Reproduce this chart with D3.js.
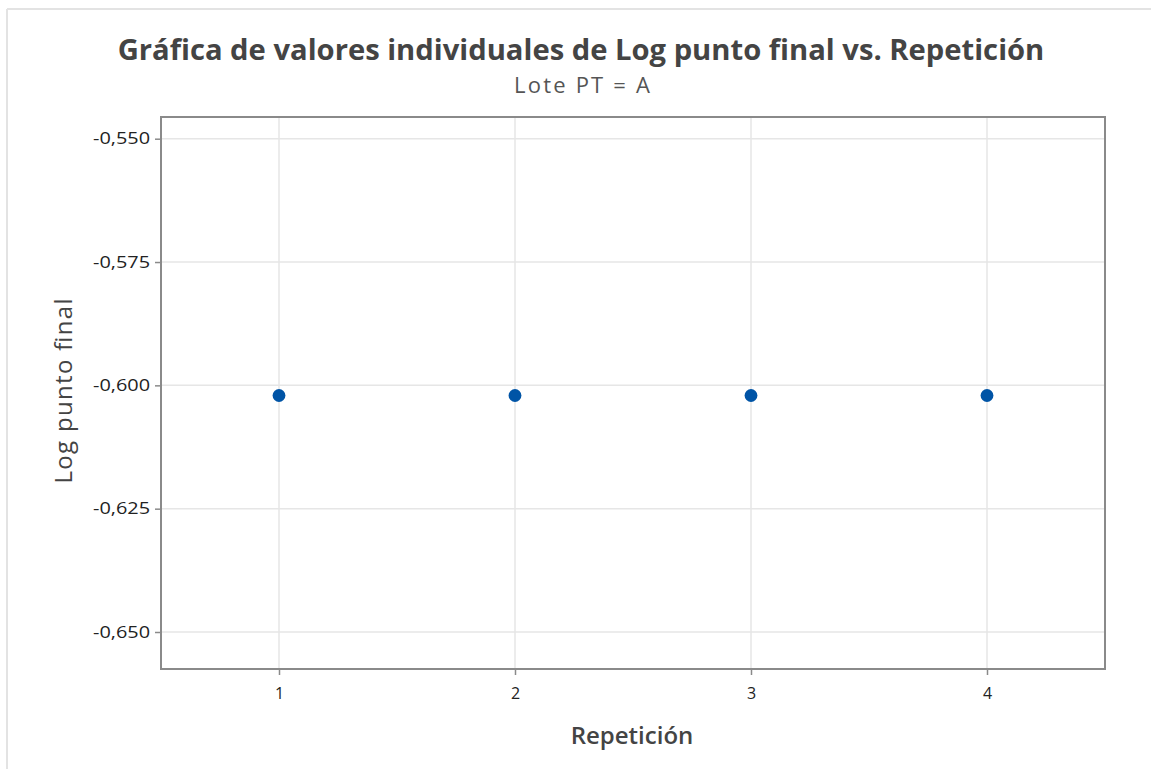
<!DOCTYPE html>
<html><head><meta charset="utf-8">
<script src="https://cdn.jsdelivr.net/npm/d3@7"></script>
<style>
html,body{margin:0;padding:0;background:#fff;}
svg{display:block;font-family:"Open Sans","Noto Sans",sans-serif;}
</style></head>
<body>
<svg id="chart" width="1151" height="769"></svg>
<script>
const repeticiones = [1, 2, 3, 4];
const logPuntoFinal = [-0.60206, -0.60206, -0.60206, -0.60206];
const yTicks = [-0.550, -0.575, -0.600, -0.625, -0.650];
const xTicks = [1, 2, 3, 4];
const titleText = "Gráfica de valores individuales de Log punto final vs. Repetición";
const subtitleText = "Lote PT = A";
const xLabel = "Repetición";
const yLabel = "Log punto final";

const svg = d3.select("#chart");
const L = 161, R = 1105, T = 117, B = 669;

// outer frame lines
svg.append("line").attr("x1",7).attr("x2",1151).attr("y1",9).attr("y2",9).attr("stroke","#e3e3e3").attr("stroke-width",2);
svg.append("line").attr("x1",7).attr("x2",7).attr("y1",9).attr("y2",769).attr("stroke","#e3e3e3").attr("stroke-width",2);

const x = d3.scaleLinear().domain([0.5, 4.5]).range([L, R]);
const y = d3.scaleLinear().domain([-0.6575, -0.5456]).range([B, T]);

// gridlines
svg.append("g").selectAll("line").data(yTicks).join("line")
  .attr("x1", L).attr("x2", R).attr("y1", d => y(d)).attr("y2", d => y(d))
  .attr("stroke", "#e6e6e6").attr("stroke-width", 1.5);
svg.append("g").selectAll("line").data(xTicks).join("line")
  .attr("y1", T).attr("y2", B).attr("x1", d => x(d)).attr("x2", d => x(d))
  .attr("stroke", "#e6e6e6").attr("stroke-width", 1.5);

// axes
const fmt = d => d3.format(".3f")(d).replace("−","-").replace(".", ",");
const yAxis = svg.append("g").attr("transform", `translate(${L},0)`)
  .call(d3.axisLeft(y).tickValues(yTicks).tickFormat(fmt).tickSize(6).tickPadding(5));
const xAxis = svg.append("g").attr("transform", `translate(0,${B})`)
  .call(d3.axisBottom(x).tickValues(xTicks).tickFormat(d3.format("d")).tickSize(6).tickPadding(13));
[yAxis, xAxis].forEach(g => {
  g.attr("font-size", null).attr("font-family", null);
  g.select(".domain").remove();
  g.selectAll(".tick line").attr("stroke", "#8a8a8a").attr("stroke-width", 1.5);
  g.selectAll(".tick text").attr("fill", "#222").style("font-size", "16px").style("font-weight", "500");
});
yAxis.selectAll(".tick text").each(function() {
  d3.select(this).attr("textLength", 57).attr("lengthAdjust", "spacingAndGlyphs");
});

// plot frame
svg.append("rect").attr("x", L).attr("y", T).attr("width", R - L).attr("height", B - T)
  .attr("fill", "none").attr("stroke", "#8a8a8a").attr("stroke-width", 2);

// points
svg.append("g").selectAll("circle").data(repeticiones).join("circle")
  .attr("cx", d => x(d)).attr("cy", (d, i) => y(logPuntoFinal[i])).attr("r", 6.4)
  .attr("fill", "#0054a6");

// titles
const title = svg.append("text").attr("x", 581).attr("y", 60).attr("text-anchor", "middle")
  .attr("fill", "#444").style("font-weight", "700").style("font-size", "27px").text(titleText);
const tw = title.node().getComputedTextLength();
title.style("font-size", (27 * 927 / tw) + "px");

svg.append("text").attr("x", 582).attr("y", 93).attr("text-anchor", "middle")
  .attr("fill", "#555").style("font-size", "22px")
  .attr("textLength", 136).attr("lengthAdjust", "spacing").text(subtitleText);

svg.append("text").attr("x", 632).attr("y", 744).attr("text-anchor", "middle")
  .attr("fill", "#444").style("font-weight", "600").style("font-size", "24px").text(xLabel);

svg.append("text").attr("transform", "translate(72,391) rotate(-90)").attr("text-anchor", "middle")
  .attr("fill", "#444").style("font-size", "24px").style("font-weight", "500")
  .attr("textLength", 185).attr("lengthAdjust", "spacing").text(yLabel);
</script>
</body></html>
